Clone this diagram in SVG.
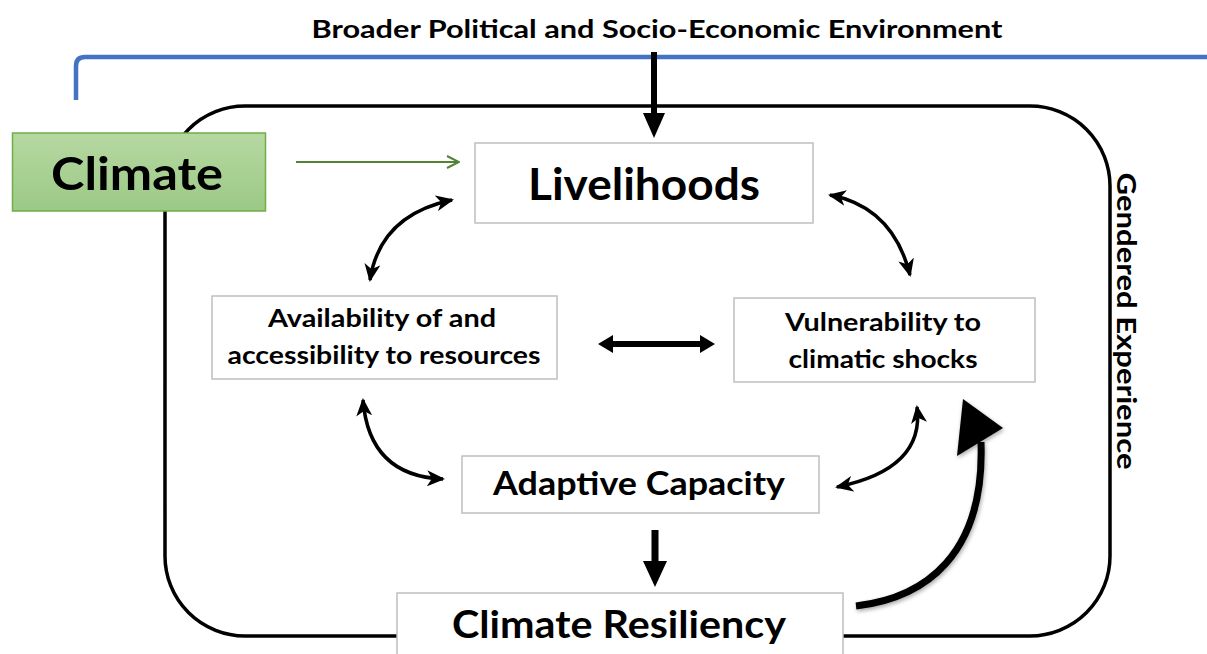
<svg xmlns="http://www.w3.org/2000/svg" width="1207" height="654" viewBox="0 0 1207 654">
  <style>
    .t { font-family: Lato, "Open Sans", "Liberation Sans", sans-serif; font-weight: bold; fill: #000; }
    .box { fill: #fff; stroke: #bfbfbf; stroke-width: 1.5; }
    .curv { fill: none; stroke: #000; stroke-width: 3.5; }
  </style>
  <defs>
    <linearGradient id="green" x1="0" y1="0" x2="0" y2="1">
      <stop offset="0" stop-color="#b6d8a2"/>
      <stop offset="1" stop-color="#9cc985"/>
    </linearGradient>
    <marker id="barb" viewBox="0 0 18 16" refX="16" refY="8" markerWidth="18" markerHeight="16" markerUnits="userSpaceOnUse" orient="auto-start-reverse">
      <path d="M0,0 L18,8 L0,16 L5,8 Z" fill="#000"/>
    </marker>
    <marker id="open" viewBox="0 0 14 14" refX="13" refY="7" markerWidth="14" markerHeight="14" markerUnits="userSpaceOnUse" orient="auto">
      <path d="M1,1 L13,7 L1,13" fill="none" stroke="#548235" stroke-width="2"/>
    </marker>
    <filter id="sh" x="-20%" y="-20%" width="140%" height="140%">
      <feGaussianBlur in="SourceAlpha" stdDeviation="2"/>
      <feOffset dx="1" dy="2"/>
      <feComponentTransfer><feFuncA type="linear" slope="0.35"/></feComponentTransfer>
      <feMerge><feMergeNode/><feMergeNode in="SourceGraphic"/></feMerge>
    </filter>
  </defs>

  <rect width="1207" height="654" fill="#fff"/>

  <g id="environment">
    <path d="M76,100 L76,66 Q76,57 85,57 L1207,57" fill="none" stroke="#4472c4" stroke-width="4.5"/>
    <text class="t" x="657" y="38" font-size="25" text-anchor="middle" textLength="691" lengthAdjust="spacingAndGlyphs">Broader Political and Socio-Economic Environment</text>
  </g>

  <g id="gendered-experience">
    <rect x="165" y="106" width="945" height="530" rx="80" ry="80" fill="none" stroke="#000" stroke-width="3.5"/>
    <text class="t" transform="translate(1117,321) rotate(90)" x="0" y="0" font-size="27" text-anchor="middle" textLength="297" lengthAdjust="spacingAndGlyphs">Gendered Experience</text>
  </g>

  <g id="connectors">
    <line x1="654" y1="52" x2="654" y2="116" stroke="#000" stroke-width="6"/>
    <polygon points="643,113 665,113 654,138" fill="#000"/>
    <line x1="296" y1="162" x2="459" y2="162" stroke="#548235" stroke-width="2" marker-end="url(#open)"/>
    <path class="curv" d="M370,280 Q380,215 452,200" marker-start="url(#barb)" marker-end="url(#barb)"/>
    <path class="curv" d="M830,195 Q893,207 910,275" marker-start="url(#barb)" marker-end="url(#barb)"/>
    <path class="curv" d="M363,400 Q369,476 443,479" marker-start="url(#barb)" marker-end="url(#barb)"/>
    <path class="curv" d="M917,407 Q925,469 837,487" marker-start="url(#barb)" marker-end="url(#barb)"/>
    <polygon points="598,344 613,335 613,341 700,341 700,335 715,344 700,353 700,347 613,347 613,353" fill="#000"/>
    <line x1="655" y1="530" x2="655" y2="563" stroke="#000" stroke-width="7"/>
    <polygon points="643,561 667,561 655,587" fill="#000"/>
    <g filter="url(#sh)">
      <path d="M856,606 C925,598 985,555 981,442" fill="none" stroke="#000" stroke-width="7"/>
      <polygon points="963,399 1003,428 957,456" fill="#000"/>
    </g>
  </g>

  <g id="climate">
    <rect x="12.5" y="133" width="253" height="78" fill="url(#green)" stroke="#70ad47" stroke-width="1.5"/>
    <text class="t" x="137" y="190" font-size="46" text-anchor="middle" textLength="172" lengthAdjust="spacingAndGlyphs">Climate</text>
  </g>

  <g id="livelihoods">
    <rect class="box" x="475" y="143" width="338" height="80"/>
    <text class="t" x="644" y="200" font-size="44" text-anchor="middle" textLength="232" lengthAdjust="spacingAndGlyphs">Livelihoods</text>
  </g>

  <g id="availability">
    <rect class="box" x="212" y="296" width="345" height="83"/>
    <text class="t" x="382" y="327" font-size="25" text-anchor="middle" textLength="228" lengthAdjust="spacingAndGlyphs">Availability of and</text>
    <text class="t" x="384" y="364" font-size="25" text-anchor="middle" textLength="313" lengthAdjust="spacingAndGlyphs">accessibility to resources</text>
  </g>

  <g id="vulnerability">
    <rect class="box" x="734" y="298" width="301" height="84"/>
    <text class="t" x="883" y="331" font-size="24" text-anchor="middle" textLength="196" lengthAdjust="spacingAndGlyphs">Vulnerability to</text>
    <text class="t" x="883" y="368" font-size="24" text-anchor="middle" textLength="189" lengthAdjust="spacingAndGlyphs">climatic shocks</text>
  </g>

  <g id="adaptive-capacity">
    <rect class="box" x="462" y="456" width="357" height="57"/>
    <text class="t" x="639" y="495" font-size="32" text-anchor="middle" textLength="292" lengthAdjust="spacingAndGlyphs">Adaptive Capacity</text>
  </g>

  <g id="climate-resiliency">
    <rect class="box" x="397" y="593" width="446" height="70"/>
    <text class="t" x="619" y="638" font-size="38" text-anchor="middle" textLength="334" lengthAdjust="spacingAndGlyphs">Climate Resiliency</text>
  </g>
</svg>
